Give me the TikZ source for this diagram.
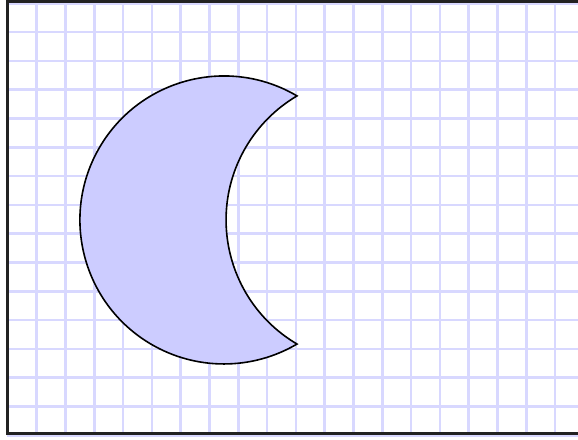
\documentclass[tikz,border=0pt]{standalone}
\definecolor{gridblue}{RGB}{216,216,255}
\definecolor{moonfill}{RGB}{204,204,255}
\definecolor{framegray}{RGB}{34,34,34}
\tikzset{
  gridline/.style={draw=gridblue, line width=2.6pt},
  moon/.style={draw=black, fill=moonfill, line width=1.6pt, line join=miter},
  frameline/.style={draw=framegray, line width=3pt}
}
\begin{document}
\begin{tikzpicture}[x=1pt,y=-1pt]
\useasboundingbox (0,0) rectangle (578,439);
\clip (0,0) rectangle (578,439);
\fill[white] (0,0) rectangle (578,439);
\foreach \i in {0,...,20} \draw[gridline] ({7.9+28.8*\i},3) -- ({7.9+28.8*\i},434);
\foreach \j in {0,...,15} \draw[gridline] (7,{3.2+28.8*\j}) -- (600,{3.2+28.8*\j});
\coordinate (tipU) at (297,95.9);
\draw[moon] (tipU) arc[start angle=-59.5, end angle=-300.5, radius=144]
  arc[start angle=120.5, end angle=239.5, radius=144] -- cycle;
\draw[frameline] (650,1.6) -- (7,1.6) -- (7,433.5) -- (650,433.5);
\end{tikzpicture}
\end{document}
